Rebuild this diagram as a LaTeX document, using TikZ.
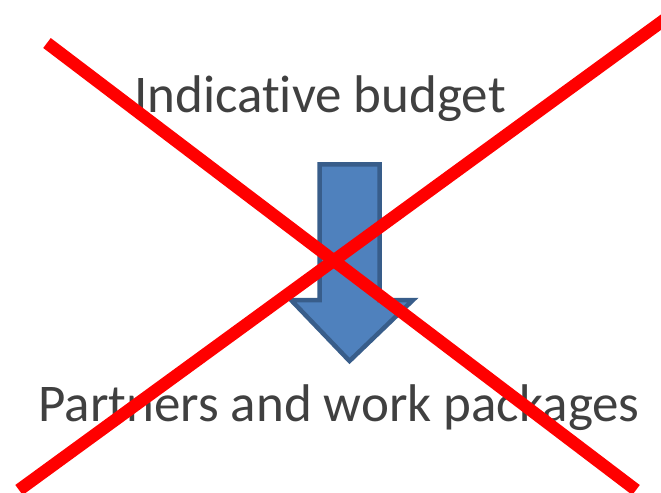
\documentclass[tikz,border=0pt]{standalone}
\usepackage{fontspec}
\setmainfont{Carlito}[Ligatures={NoCommon,NoRequired,NoContextual}]
\definecolor{txtgray}{HTML}{404040}
\definecolor{arrowfill}{HTML}{4F81BD}
\definecolor{arrowline}{HTML}{385D8A}
\begin{document}
\begin{tikzpicture}[x=1bp,y=-1bp,
  label/.style={text=txtgray,font=\fontsize{53bp}{62bp}\selectfont,anchor=base,inner sep=0pt},
  blockarrow/.style={fill=arrowfill,draw=arrowline,line width=4.5bp,line join=miter},
  cross/.style={draw=red,line width=12.5bp,line cap=butt}]
\useasboundingbox (0,0) rectangle (661,493);
\clip (0,0) rectangle (661,493);
\node[label] (top) at (320,113) {Indicative budget};
\node[label] (bottom) at (339,421) {Partners and work packages};
\draw[blockarrow] (319.5,164.5) -- (379.5,164.5) -- (379.5,300) -- (413,300)
  -- (349.5,361) -- (291,300) -- (319.5,300) -- cycle;
\coordinate (a1) at (47,43);
\coordinate (a2) at (636,490);
\coordinate (b1) at (19,490);
\coordinate (b2) at (675,12);
\draw[cross] (a1) -- (a2);
\draw[cross] (b1) -- (b2);
\end{tikzpicture}
\end{document}
